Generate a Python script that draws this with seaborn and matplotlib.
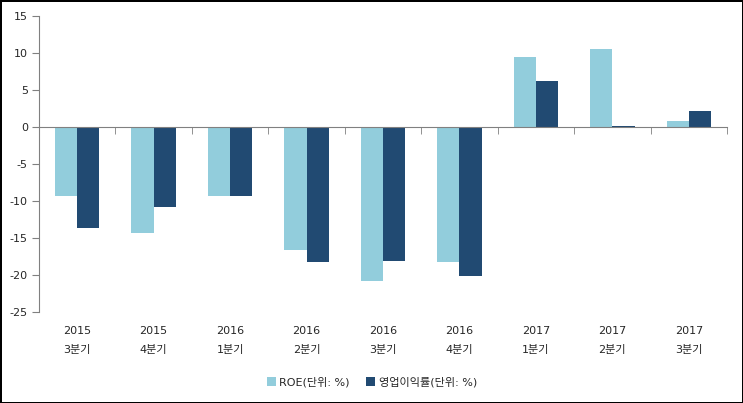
import matplotlib
matplotlib.use('Agg')
import matplotlib.pyplot as plt
import numpy as np
import pandas as pd
import seaborn as sns

# 분기별 데이터
years = ['2015', '2015', '2016', '2016', '2016', '2016', '2017', '2017', '2017']
quarters = ['3분기', '4분기', '1분기', '2분기', '3분기', '4분기', '1분기', '2분기', '3분기']
roe = [-9.3, -14.3, -9.3, -16.6, -20.8, -18.2, 9.5, 10.6, 0.8]
op_margin = [-13.6, -10.8, -9.3, -18.2, -18.1, -20.1, 6.2, 0.2, 2.1]
series_names = ['ROE(단위: %)', '영업이익률(단위: %)']
yticks = [-25, -20, -15, -10, -5, 0, 5, 10, 15]

labels = [y + '\n' + q for y, q in zip(years, quarters)]

df = pd.DataFrame({
    'cat': list(range(len(labels))) * 2,
    'val': roe + op_margin,
    'series': [series_names[0]] * len(roe) + [series_names[1]] * len(op_margin),
})

sns.set_style('white')
plt.rcParams['font.family'] = ['DejaVu Sans', 'Noto Sans CJK KR']
plt.rcParams['axes.unicode_minus'] = False

fig = plt.figure(figsize=(7.43, 4.03), dpi=100, linewidth=2, edgecolor='black')
ax = fig.add_axes([39 / 743, 1 - 312 / 403, (727 - 39) / 743, (312 - 16) / 403])

sns.barplot(data=df, x='cat', y='val', hue='series', order=list(range(len(labels))),
            palette=['#92CDDC', '#214A72'], width=0.58, saturation=1, ax=ax,
            linewidth=0, edgecolor='none', legend=True)

ax.set_xlim(-0.5, len(labels) - 0.5)
ax.set_ylim(-25, 15)
ax.set_yticks(yticks)
ax.set_yticklabels([str(t) for t in yticks], fontsize=8)
ax.tick_params(axis='y', length=5, color='#808080', direction='out', left=True, pad=3)
ax.set_xlabel('')
ax.set_ylabel('')

for s in ['top', 'right']:
    ax.spines[s].set_visible(False)
ax.spines['left'].set_color('#808080')
ax.spines['bottom'].set_color('#808080')
ax.spines['bottom'].set_position(('data', 0))

# 구분 눈금
ax.set_xticks(np.arange(-0.5, len(labels), 1.0), minor=True)
ax.set_xticks(range(len(labels)))
ax.set_xticklabels([])
ax.tick_params(axis='x', which='major', length=0)
ax.tick_params(axis='x', which='minor', length=5, color='#808080', direction='out', bottom=True)

sec = ax.secondary_xaxis('bottom')
sec.set_xticks(range(len(labels)))
sec.set_xticklabels(labels, fontsize=8, linespacing=2.1)
sec.tick_params(length=0, pad=10)
sec.spines['bottom'].set_visible(False)

ax.legend(loc='center', bbox_to_anchor=(372 / 743, 1 - 382 / 403), bbox_transform=fig.transFigure,
          ncol=2, frameon=False, fontsize=8, handlelength=0.8, handleheight=0.8,
          handletextpad=0.3, columnspacing=1.5)

fig.savefig('out.png', dpi=100, edgecolor=fig.get_edgecolor())
